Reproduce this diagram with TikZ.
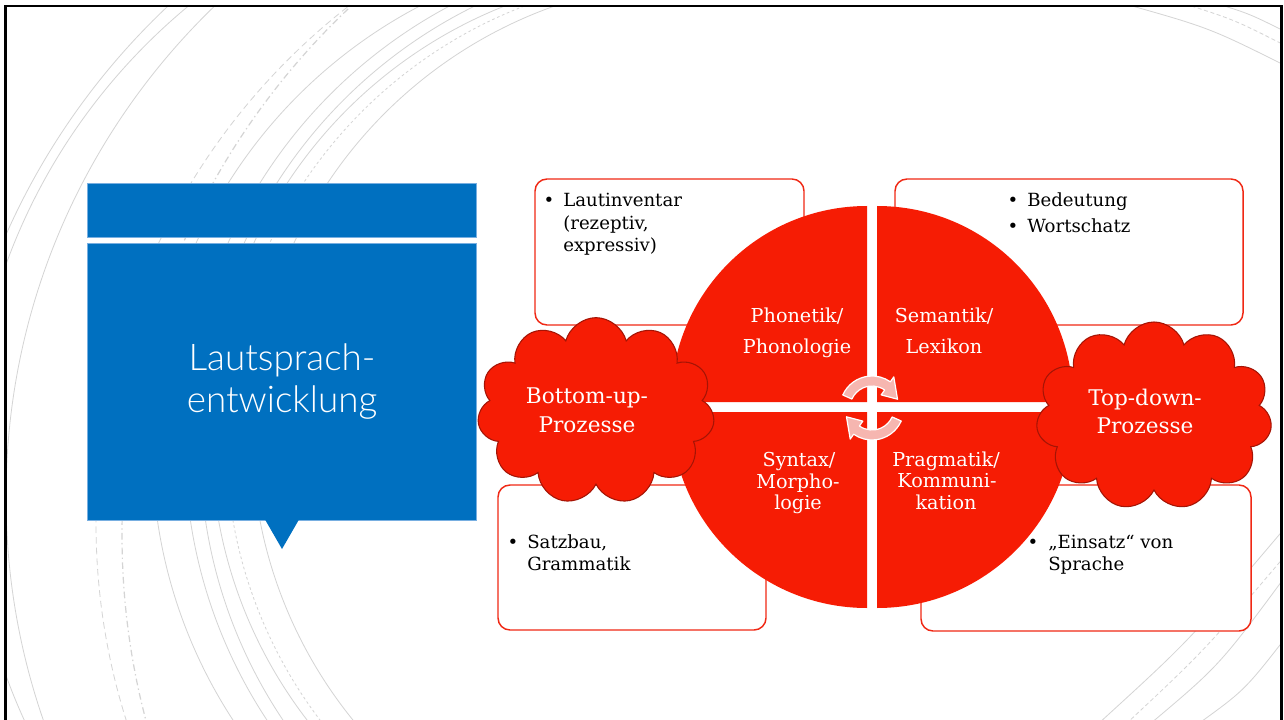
\documentclass[tikz,border=0pt]{standalone}
\usepackage{fontspec}
\setmainfont{DejaVu Serif}
\newfontfamily\titlefont{Lato Light}
\usetikzlibrary{shapes.symbols,calc}

\definecolor{slideblue}{RGB}{0,112,192}
\definecolor{slideblueedge}{RGB}{120,175,225}
\definecolor{quadred}{RGB}{246,28,4}
\definecolor{boxred}{RGB}{240,40,20}
\definecolor{cloudedge}{RGB}{165,20,5}
\definecolor{arrowpink}{RGB}{246,182,176}
\definecolor{decor}{RGB}{212,212,212}

\tikzset{
  decorline/.style={draw=decor, line width=0.6pt},
  bluebar/.style={rectangle, fill=slideblue, draw=slideblueedge, line width=0.4pt, inner sep=0pt},
  infobox/.style={rectangle, draw=boxred, line width=1.1pt, rounded corners=9pt, fill=white, inner sep=0pt},
  boxtext/.style={anchor=base west, inner sep=0pt, font=\fontsize{13.6}{16}\selectfont},
  bulletmark/.style={anchor=base, inner sep=0pt, font=\fontsize{13.6}{16}\selectfont},
  pie/.style={fill=quadred},
  pietext/.style={anchor=base, inner sep=0pt, text=white, font=\fontsize{14.4}{17}\selectfont},
  cloudshape/.style={cloud, cloud puffs=11, aspect=1.3, fill=quadred, draw=cloudedge, line width=0.8pt, inner sep=0pt},
  cloudtext/.style={anchor=base, inner sep=0pt, text=white, font=\fontsize{16.2}{19}\selectfont},
  titletext/.style={anchor=base, inner sep=0pt, text=white, font=\titlefont\fontsize{27.6}{32}\selectfont},
  cyclearrow/.style={fill=arrowpink, draw=white, line width=0.9pt, line join=round},
}

\begin{document}
\begin{tikzpicture}[x=0.75pt, y=-0.75pt]
\useasboundingbox (0,0) rectangle (1284,720);
\clip (0,0) rectangle (1284,720);
\fill[white] (0,0) rectangle (1284,720);

% faint background arcs, left part of the slide
\begin{scope}
  \clip (5,6) rectangle (572,720);
  \draw[decorline] (652,520) circle[radius=706];
  \draw[decorline] (572,470) circle[radius=602];
  \draw[decorline] (688,497) circle[radius=682];
  \draw[decorline, dash pattern=on 5pt off 3pt] (751,523) circle[radius=655];
  \draw[decorline, line width=0.9pt, dash pattern=on 5pt off 2.5pt on 1pt off 2.5pt] (847,535) circle[radius=725];
  \draw[decorline] (650.7,447.9) circle[radius=498.5];
  \draw[decorline] (683,446.1) circle[radius=498.1];
  \draw[decorline] (690.9,446.9) circle[radius=490.9];
  \draw[decorline] (675.1,437.6) circle[radius=463.9];
  \draw[decorline, dash pattern=on 2pt off 2pt] (690.4,439.9) circle[radius=464.4];
  \draw[decorline] (705.9,434.3) circle[radius=454.1];
\end{scope}

% faint arcs in the right corners
\begin{scope}
  \clip (5,6) rectangle (1282,720);
  \draw[decorline] (1125,4) .. controls (1210,28) .. (1290,68);
  \draw[decorline, dash pattern=on 3pt off 2pt] (1185,4) .. controls (1235,20) .. (1290,48);
  \draw[decorline] (1218,4) .. controls (1250,14) .. (1290,34);
  \draw[decorline] (1098,724) .. controls (1190,640) .. (1290,522);
  \draw[decorline, dash pattern=on 3pt off 2pt] (1126,724) .. controls (1205,650) .. (1290,550);
  \draw[decorline] (1150,724) .. controls (1220,665) .. (1290,570);
  \draw[decorline] (1198,724) .. controls (1245,690) .. (1290,632);
\end{scope}

% slide frame
\draw[line width=1.8pt] (5.5,6) rectangle (1281.5,760);

% title block
\node[bluebar, minimum width=291.75pt, minimum height=40.5pt] (titlebar) at (281.5,210) {};
\node[bluebar, minimum width=291.75pt, minimum height=207.75pt] (titlebox) at (281.5,381.5) {};
\fill[slideblue] (265,519.5) -- (299,519.5) -- (282,549) -- cycle;
\node[titletext] (title1) at (282,370) {Lautsprach-};
\node[titletext] (title2) at (282,412) {entwicklung};

% corner boxes behind the circle
\node[infobox, minimum width=201.75pt, minimum height=109.5pt] (boxTL) at (669.5,252) {};
\node[infobox, minimum width=261pt, minimum height=109.5pt] (boxTR) at (1069,252) {};
\node[infobox, minimum width=201pt, minimum height=108.75pt] (boxBL) at (632,557.5) {};
\node[infobox, minimum width=247.5pt, minimum height=109.5pt] (boxBR) at (1086,558) {};

\node[bulletmark] (bTL) at (549,207) {•};
\node[boxtext] (tTL1) at (563,207) {Lautinventar};
\node[boxtext] (tTL2) at (563,230) {(rezeptiv,};
\node[boxtext] (tTL3) at (563,252) {expressiv)};

\node[bulletmark] (bTR1) at (1013,207) {•};
\node[bulletmark] (bTR2) at (1013,233) {•};
\node[boxtext] (tTR1) at (1027,207) {Bedeutung};
\node[boxtext] (tTR2) at (1027,233) {Wortschatz};

\node[bulletmark] (bBL) at (513,548) {•};
\node[boxtext] (tBL1) at (527,548) {Satzbau,};
\node[boxtext] (tBL2) at (527,570) {Grammatik};

\node[bulletmark] (bBR) at (1033,548) {•};
\node[boxtext] (tBR1) at (1048,548) {„Einsatz“ von};
\node[boxtext] (tBR2) at (1048,570) {Sprache};

% four quarter circles
\fill[pie] (867,402) -- ++(-196,0) arc[start angle=180, end angle=270, radius=196] -- cycle;
\fill[pie] (877,402) -- ++(0,-196) arc[start angle=270, end angle=360, radius=196] -- cycle;
\fill[pie] (877,412) -- ++(196,0) arc[start angle=0, end angle=90, radius=196] -- cycle;
\fill[pie] (867,412) -- ++(0,196) arc[start angle=90, end angle=180, radius=196] -- cycle;

\node[pietext] (pTL1) at (797,322) {Phonetik/};
\node[pietext] (pTL2) at (797,353) {Phonologie};
\node[pietext] (pTR1) at (944,322) {Semantik/};
\node[pietext] (pTR2) at (944,353) {Lexikon};
\node[pietext] (pBL1) at (799,466) {Syntax/};
\node[pietext] (pBL2) at (798,488) {Morpho-};
\node[pietext] (pBL3) at (798,509) {logie};
\node[pietext] (pBR1) at (946,466) {Pragmatik/};
\node[pietext] (pBR2) at (947,487) {Kommuni-};
\node[pietext] (pBR3) at (946,509) {kation};

% circular arrows in the middle
\coordinate (hub) at (872,408);
\draw[cyclearrow] ($(hub)+(-156:32)$) arc[start angle=-156, end angle=-55, radius=32]
  -- ($(hub)+(-55:38)$) -- ($(hub)+(-19:27)$) -- ($(hub)+(-55:16)$)
  -- ($(hub)+(-55:22)$) arc[start angle=-55, end angle=-156, radius=22] -- cycle;
\draw[cyclearrow] ($(hub)+(24:32)$) arc[start angle=24, end angle=125, radius=32]
  -- ($(hub)+(125:38)$) -- ($(hub)+(161:27)$) -- ($(hub)+(125:16)$)
  -- ($(hub)+(125:22)$) arc[start angle=125, end angle=24, radius=22] -- cycle;

% process clouds
\node[cloudshape, minimum width=178pt, minimum height=140pt] (bucloud) at (596,411) {};
\node[cloudtext] (bu1) at (587,403) {Bottom-up-};
\node[cloudtext] (bu2) at (587,432) {Prozesse};
\node[cloudshape, minimum width=177pt, minimum height=141pt] (tdcloud) at (1154,416) {};
\node[cloudtext] (td1) at (1145,405) {Top-down-};
\node[cloudtext] (td2) at (1145,433) {Prozesse};
\end{tikzpicture}
\end{document}
